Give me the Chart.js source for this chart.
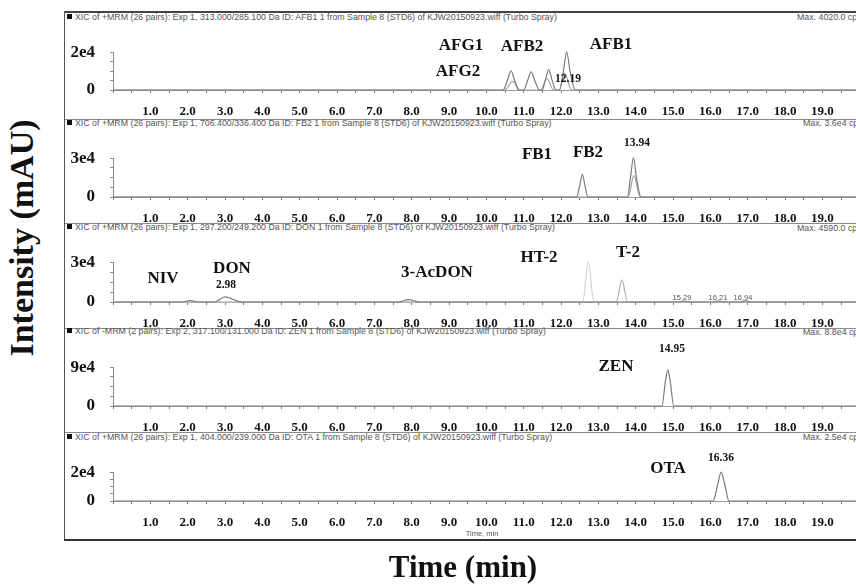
<!DOCTYPE html>
<html>
<head>
<meta charset="utf-8">
<script src="https://cdn.jsdelivr.net/npm/chart.js@4.4.1/dist/chart.umd.min.js"></script>
<style>
  html, body { margin:0; padding:0; background:#fff; }
  #wrap { position:relative; width:856px; height:586px; overflow:hidden; background:#fff; }
  canvas { position:absolute; }
  .hdr { position:absolute; left:75px; font-family:"Liberation Sans", Arial, sans-serif; font-size:8.8px; color:#555; white-space:nowrap; transform:translateY(-50%); }
  .max { position:absolute; font-family:"Liberation Sans", Arial, sans-serif; font-size:8.8px; color:#555; white-space:nowrap; transform:translateY(-50%); }
  .sq { position:absolute; left:67px; width:5px; height:5px; background:#111; }
  .hl { position:absolute; height:0; border-top:1px solid #8a8a8a; }
  .lbl { position:absolute; font-family:"Liberation Serif", "Times New Roman", serif; font-weight:bold; color:#111; white-space:nowrap; transform:translate(-50%,-50%); }
  .big { font-size:17px; }
  .rt { font-size:11.5px; }
  .tiny { position:absolute; font-family:"Liberation Sans", Arial, sans-serif; font-size:7.5px; color:#555; white-space:nowrap; transform:translate(-50%,-50%); }
  .axt { position:absolute; font-family:"Liberation Serif", "Times New Roman", serif; font-weight:bold; color:#111; white-space:nowrap; transform:translate(-50%,-50%); }
</style>
</head>
<body>
<div id="wrap">
  <!-- frame -->
  <div class="hl" style="left:65px; top:11px; width:791px; border-top:2px solid #444;"></div>
  <div style="position:absolute; left:64px; top:11px; width:0; height:530px; border-left:1px solid #555;"></div>
  <div class="hl" style="left:65px; top:119px; width:791px;"></div>
  <div class="hl" style="left:65px; top:223px; width:791px;"></div>
  <div class="hl" style="left:65px; top:328px; width:791px;"></div>
  <div class="hl" style="left:65px; top:432px; width:791px;"></div>
  <div class="hl" style="left:64px; top:539px; width:792px; border-top:2px solid #333;"></div>

  <!-- headers -->
  <div class="sq" style="top:14px;"></div>
  <div class="hdr" style="top:17px;">XIC of +MRM (26 pairs): Exp 1, 313.000/285.100 Da ID: AFB1 1 from Sample 8 (STD6) of KJW20150923.wiff (Turbo Spray)</div>
  <div class="max" style="left:797px; top:17px;">Max. 4020.0 cps</div>

  <div class="sq" style="top:120px;"></div>
  <div class="hdr" style="top:123px;">XIC of +MRM (26 pairs): Exp 1, 706.400/336.400 Da ID: FB2 1 from Sample 8 (STD6) of KJW20150923.wiff (Turbo Spray)</div>
  <div class="max" style="left:803px; top:123px;">Max. 3.6e4 cps</div>

  <div class="sq" style="top:224px;"></div>
  <div class="hdr" style="top:227px;">XIC of +MRM (26 pairs): Exp 1, 297.200/249.200 Da ID: DON 1 from Sample 8 (STD6) of KJW20150923.wiff (Turbo Spray)</div>
  <div class="max" style="left:797px; top:228px;">Max. 4590.0 cps</div>

  <div class="sq" style="top:328px;"></div>
  <div class="hdr" style="top:331px;">XIC of -MRM (2 pairs): Exp 2, 317.100/131.000 Da ID: ZEN 1 from Sample 8 (STD6) of KJW20150923.wiff (Turbo Spray)</div>
  <div class="max" style="left:803px; top:332px;">Max. 8.8e4 cps</div>

  <div class="sq" style="top:434px;"></div>
  <div class="hdr" style="top:437px;">XIC of +MRM (26 pairs): Exp 1, 404.000/239.000 Da ID: OTA 1 from Sample 8 (STD6) of KJW20150923.wiff (Turbo Spray)</div>
  <div class="max" style="left:803px; top:437px;">Max. 2.5e4 cps</div>

  <canvas id="c1" width="791" height="95" style="left:65px; top:27px;"></canvas>
  <canvas id="c2" width="791" height="96" style="left:65px; top:133px;"></canvas>
  <canvas id="c3" width="791" height="97" style="left:65px; top:237px;"></canvas>
  <canvas id="c4" width="791" height="96" style="left:65px; top:342px;"></canvas>
  <canvas id="c5" width="791" height="86" style="left:65px; top:447px;"></canvas>

  <!-- peak labels -->
  <div class="lbl big" style="left:461px; top:45px;">AFG1</div>
  <div class="lbl big" style="left:522px; top:46px;">AFB2</div>
  <div class="lbl big" style="left:611px; top:44px;">AFB1</div>
  <div class="lbl big" style="left:458px; top:71px;">AFG2</div>
  <div class="lbl rt" style="left:568px; top:78px;">12.19</div>

  <div class="lbl big" style="left:537px; top:154px;">FB1</div>
  <div class="lbl big" style="left:588px; top:152px;">FB2</div>
  <div class="lbl rt" style="left:637px; top:142px;">13.94</div>

  <div class="lbl big" style="left:163px; top:278px;">NIV</div>
  <div class="lbl big" style="left:232px; top:268px;">DON</div>
  <div class="lbl rt" style="left:226px; top:284px;">2.98</div>
  <div class="lbl big" style="left:437px; top:272px;">3-AcDON</div>
  <div class="lbl big" style="left:539px; top:257px;">HT-2</div>
  <div class="lbl big" style="left:628px; top:252px;">T-2</div>
  <div class="tiny" style="left:682px; top:297px;">15.29</div>
  <div class="tiny" style="left:718px; top:297px;">16.21</div>
  <div class="tiny" style="left:743px; top:297px;">16.94</div>

  <div class="lbl big" style="left:616px; top:366px;">ZEN</div>
  <div class="lbl rt" style="left:672px; top:348px;">14.95</div>

  <div class="lbl big" style="left:668px; top:468px;">OTA</div>
  <div class="lbl rt" style="left:721px; top:457px;">16.36</div>
  <div class="tiny" style="left:482px; top:533px;">Time, min</div>

  <!-- axis titles -->
  <div class="axt" style="left:22px; top:238px; font-size:34px; transform:translate(-50%,-50%) rotate(-90deg);">Intensity (mAU)</div>
  <div class="axt" style="left:463px; top:567px; font-size:31px;">Time (min)</div>
</div>

<script>
// ---------- data ----------
const xTickLabels = ['1.0','2.0','3.0','4.0','5.0','6.0','7.0','8.0','9.0','10.0',
                     '11.0','12.0','13.0','14.0','15.0','16.0','17.0','18.0','19.0'];

// Panel 1: aflatoxins
const afbTime  = [0, 10.45, 10.56, 10.66, 10.76, 10.87, 11.0, 11.1, 11.2, 11.3, 11.42, 11.5, 11.58, 11.67, 11.76, 11.86, 11.96, 12.06, 12.15, 12.25, 12.38, 19.9];
const afbMain  = [0, 0, 5000, 10100, 5000, 0, 0, 4800, 9600, 4800, 0, 0, 5200, 10800, 5200, 0, 0, 9500, 20100, 9000, 0, 0];
const afbTime2 = [0, 10.5, 10.7, 10.9, 11.45, 11.62, 11.8, 11.95, 12.1, 12.28, 19.9];
const afbMinor = [0, 0, 4600, 0, 0, 6000, 0, 0, 9000, 0, 0];
const afbYTicks = [0, 5000, 10000, 15000, 20000];
const afbYLabels = ['0', '', '', '', '2e4'];

// Panel 2: fumonisins
const fbTime   = [0, 12.42, 12.5, 12.57, 12.64, 12.72, 13.78, 13.86, 13.94, 14.02, 14.14, 19.9];
const fbMain   = [0, 0, 9000, 17500, 9000, 0, 0, 15000, 30500, 15000, 0, 0];
const fbTime2  = [0, 13.8, 13.95, 14.12, 19.9];
const fbMinor  = [0, 0, 16500, 0, 0];
const fbYTicks = [0, 7500, 15000, 22500, 30000];
const fbYLabels = ['0', '', '', '', '3e4'];

// Panel 3: trichothecenes
const toxTime  = [0, 1.85, 2.06, 2.3, 2.72, 3.0, 3.45, 7.65, 7.92, 8.2, 15.15, 15.29, 15.45, 16.05, 16.21, 16.4, 16.8, 16.94, 17.1, 19.9];
const toxMain  = [0, 0, 1100, 0, 0, 3800, 0, 0, 1800, 0, 0, 700, 0, 0, 700, 0, 0, 900, 0, 0];
const ht2Time  = [0, 12.58, 12.73, 12.88, 19.9];
const ht2Vals  = [0, 0, 30000, 0, 0];
const t2Time   = [0, 13.48, 13.63, 13.78, 19.9];
const t2Vals   = [0, 0, 16700, 0, 0];
const toxYTicks = [0, 7500, 15000, 22500, 30000];
const toxYLabels = ['0', '', '', '', '3e4'];

// Panel 4: zearalenone
const zenTime  = [0, 14.7, 14.8, 14.86, 14.92, 15.02, 19.9];
const zenVals  = [0, 0, 60000, 84000, 60000, 0, 0];
const zenYTicks = [0, 22500, 45000, 67500, 90000];
const zenYLabels = ['0', '', '', '', '9e4'];

// Panel 5: ochratoxin A
const otaTime  = [0, 16.07, 16.2, 16.29, 16.38, 16.5, 19.9];
const otaVals  = [0, 0, 12000, 20000, 12000, 0, 0];
const otaYTicks = [0, 5000, 10000, 15000, 20000];
const otaYLabels = ['0', '', '', '', '2e4'];

// ---------- helpers ----------
function pts(t, v) { return t.map((x, i) => ({ x: x, y: v[i] })); }
function ds(t, v, color) {
  return { data: pts(t, v), borderColor: color, borderWidth: 1.2, pointRadius: 0,
           cubicInterpolationMode: 'monotone', fill: false, clip: false };
}
const serifBold = { family: '"Liberation Serif", "Times New Roman", serif', weight: 'bold' };

function makeChart(id, datasets, yTicks, yLabels) {
  const yMax = yTicks[yTicks.length - 1];
  const xMinor = [];
  for (let i = 0; i <= 39; i++) xMinor.push(i * 0.5);
  new Chart(document.getElementById(id), {
    type: 'line',
    data: { datasets: datasets },
    options: {
      responsive: false, animation: false, devicePixelRatio: 1,
      layout: { padding: { top: 20, left: 0, right: 0, bottom: 0 } },
      plugins: { legend: { display: false }, tooltip: { enabled: false }, title: { display: false } },
      scales: {
        x: {
          type: 'linear', min: 0, max: 19.9,
          afterBuildTicks: s => { s.ticks = xMinor.map(v => ({ value: v })); },
          afterFit: s => { s.height = 32; },
          grid: { display: true, drawOnChartArea: false, drawTicks: true, tickLength: 3, color: '#777' },
          border: { display: true, color: '#9a9a9a', width: 1 },
          ticks: {
            autoSkip: false, maxRotation: 0, padding: 11, color: '#111',
            font: Object.assign({ size: 13 }, serifBold),
            callback: v => (Number.isInteger(v) && v >= 1) ? xTickLabels[v - 1] : ''
          }
        },
        y: {
          type: 'linear', min: 0, max: yMax,
          afterBuildTicks: s => { s.ticks = yTicks.map(v => ({ value: v })); },
          afterFit: s => { s.width = 48; },
          grid: { display: true, drawOnChartArea: false, drawTicks: true, tickLength: 3, color: '#888' },
          border: { display: true, color: '#888', width: 1 },
          ticks: {
            autoSkip: false, padding: 15, color: '#111',
            font: Object.assign({ size: 17 }, serifBold),
            callback: v => { const i = yTicks.indexOf(v); return i >= 0 ? yLabels[i] : ''; }
          }
        }
      }
    }
  });
}

makeChart('c1', [ds(afbTime, afbMain, '#7c7c7c'), ds(afbTime2, afbMinor, '#a8a8a8')], afbYTicks, afbYLabels);
makeChart('c2', [ds(fbTime, fbMain, '#7c7c7c'), ds(fbTime2, fbMinor, '#a0a0a0')], fbYTicks, fbYLabels);
makeChart('c3', [ds(toxTime, toxMain, '#7c7c7c'), ds(t2Time, t2Vals, '#b0b0b0'), ds(ht2Time, ht2Vals, '#d4d4d4')], toxYTicks, toxYLabels);
makeChart('c4', [ds(zenTime, zenVals, '#7c7c7c')], zenYTicks, zenYLabels);
makeChart('c5', [ds(otaTime, otaVals, '#7c7c7c')], otaYTicks, otaYLabels);
</script>
</body>
</html>
